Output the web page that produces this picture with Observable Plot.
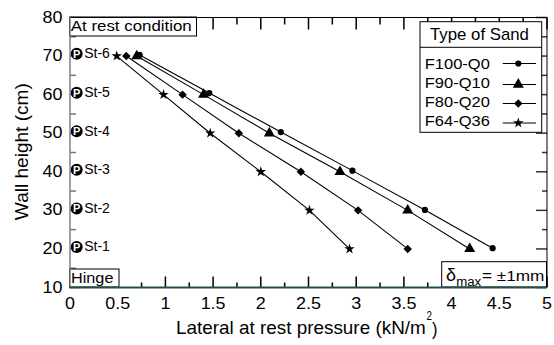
<!DOCTYPE html>
<html><head><meta charset="utf-8">
<script src="https://cdn.jsdelivr.net/npm/d3@7"></script>
<script src="https://cdn.jsdelivr.net/npm/@observablehq/plot@0.6"></script>
<style>
html,body{margin:0;padding:0;background:#fff;}
#chart svg{display:block;font-family:"Liberation Sans",Arial,sans-serif;}
</style></head><body><div id="chart"></div>
<script>
// ---- data ----
const heights = [70, 60, 50, 40, 30, 20];
const heightsF100 = [70.3, 60.4, 50.3, 40.3, 30.1, 20.2];
const seriesNames = ["F100-Q0", "F90-Q10", "F80-Q20", "F64-Q36"];
const pressureF100 = [0.73, 1.46, 2.21, 2.96, 3.72, 4.43];
const pressureF90 = [0.70, 1.40, 2.09, 2.83, 3.54, 4.19];
const pressureF80 = [0.59, 1.18, 1.77, 2.42, 3.02, 3.54];
const pressureF64 = [0.49, 0.98, 1.47, 2.00, 2.51, 2.93];
const sensorNames = ["St-1", "St-2", "St-3", "St-4", "St-5", "St-6"];
const sensorHeights = [20.5, 30.5, 40.5, 50.5, 60.5, 70.6];
const sensorPressure = 0.07;
const xTickValues = [0, 0.5, 1, 1.5, 2, 2.5, 3, 3.5, 4, 4.5, 5];
const xTickLabels = ["0", "0.5", "1", "1.5", "2", "2.5", "3", "3.5", "4", "4.5", "5"];
const xMinorTicks = [0.25, 0.75, 1.25, 1.75, 2.25, 2.75, 3.25, 3.75, 4.25, 4.75];
const yTickValues = [10, 20, 30, 40, 50, 60, 70, 80];
const yTickLabels = ["10", "20", "30", "40", "50", "60", "70", "80"];
const yMinorTicks = [15, 25, 35, 45, 55, 65, 75];
const titleText = "At rest condition";
const hingeText = "Hinge";
const legendTitle = "Type of Sand";
const xTitle = "Lateral at rest pressure (kN/m";
const yTitle = "Wall height (cm)";

// ---- table ----
const pressures = [pressureF100, pressureF90, pressureF80, pressureF64];
const rows = [];
seriesNames.forEach((s, k) => pressures[k].forEach((p, i) =>
  rows.push({series: s, pressure: p, height: k === 0 ? heightsF100[i] : heights[i]})));
const sensors = sensorNames.map((n, i) => ({name: n, pressure: sensorPressure, height: sensorHeights[i]}));

const symbols = ["circle", "triangle", "diamond2", "star"];
const radii = [3.1, 4.1, 3.8, 3.3];

const tickSym = (dx, dy) => ({draw(ctx) { ctx.moveTo(0, 0); ctx.lineTo(dx, dy); }});
const FONT = '"Liberation Sans", Arial, sans-serif';

const chart = Plot.plot({
  width: 554, height: 345,
  marginLeft: 69.5, marginRight: 7.5, marginTop: 17, marginBottom: 58,
  x: {domain: [0, 5]},
  y: {domain: [10, 80]},
  style: {fontFamily: FONT, fontSize: "16px", color: "black", background: "white", overflow: "visible"},
  marks: [
    // tick marks (inward)
    Plot.dot(xTickValues, {x: d => d, frameAnchor: "bottom", symbol: tickSym(0, -11), stroke: "black", fill: "none"}),
    Plot.dot(xMinorTicks, {x: d => d, frameAnchor: "bottom", symbol: tickSym(0, -5), stroke: "black", fill: "none"}),
    Plot.dot(xTickValues, {x: d => d, frameAnchor: "top", symbol: tickSym(0, 12), stroke: "black", fill: "none"}),
    Plot.dot(xMinorTicks, {x: d => d, frameAnchor: "top", symbol: tickSym(0, 7), stroke: "black", fill: "none"}),
    Plot.dot(yTickValues, {y: d => d, frameAnchor: "left", symbol: tickSym(11, 0), stroke: "#777", fill: "none"}),
    Plot.dot(yMinorTicks, {y: d => d, frameAnchor: "left", symbol: tickSym(6, 0), stroke: "#777", fill: "none"}),
    Plot.dot(yTickValues, {y: d => d, frameAnchor: "right", symbol: tickSym(-11, 0), stroke: "#333", fill: "none"}),
    Plot.dot(yMinorTicks, {y: d => d, frameAnchor: "right", symbol: tickSym(-5, 0), stroke: "#333", fill: "none"}),
    // axes labels
    Plot.axisX(xTickValues, {tickSize: 0, tickPadding: 10, label: null,
      tickFormat: d => xTickLabels[xTickValues.indexOf(d)], fontSize: 16}),
    Plot.axisY(yTickValues, {tickSize: 0, tickPadding: 7.5, label: null,
      tickFormat: d => yTickLabels[yTickValues.indexOf(d)], fontSize: 16}),
    // data
    Plot.line(rows, {x: "pressure", y: "height", z: "series", stroke: "black", strokeWidth: 1.1}),
    ...seriesNames.map((s, k) => Plot.dot(rows.filter(r => r.series === s),
      {x: "pressure", y: "height", symbol: symbols[k], r: radii[k], fill: "black", stroke: "none"})),
    // sensors
    Plot.dot(sensors, {x: "pressure", y: "height", r: 6, fill: "black"}),
    Plot.text(sensors, {x: "pressure", y: "height", text: () => "P", fill: "white", fontWeight: "bold", fontSize: 11, dy: 0.5}),
    Plot.text(sensors, {x: "pressure", y: "height", text: "name", textAnchor: "start", dx: 7.5, fontSize: 14, fill: "black"}),
    // frame
    Plot.ruleY([80], {stroke: "black", strokeWidth: 1}),
    Plot.ruleX([5], {stroke: "black", strokeWidth: 1}),
    Plot.ruleX([0], {stroke: "#808080", strokeWidth: 1.5}),
    Plot.ruleY([10], {stroke: "#23504b", strokeWidth: 2.2})
  ]
});

document.getElementById("chart").appendChild(chart);
const svg = d3.select(chart);
const xs = chart.scale("x"), ys = chart.scale("y");

// widen tick labels slightly (reference glyphs are horizontally stretched)
svg.selectAll('g[aria-label="x-axis tick label"] text, g[aria-label="y-axis tick label"] text').each(function() {
  const n = this.getComputedTextLength();
  this.setAttribute("textLength", n * 1.12);
  this.setAttribute("lengthAdjust", "spacingAndGlyphs");
});

function addText(parent, str, x, y, w, size, opts = {}) {
  const t = parent.append("text").attr("font-size", size).attr("fill", "black")
    .attr("font-family", FONT).attr("text-anchor", opts.anchor || "start").text(str);
  const n = t.node().getComputedTextLength();
  const s = w ? w / n : 1;
  t.attr("transform", `translate(${x},${y})${opts.rotate ? ` rotate(${opts.rotate})` : ""} scale(${s},1)`);
  return t;
}

// boxes: insert beneath frame rules
const firstRule = svg.select('g[aria-label="rule"]').node();
const boxes = d3.select(chart.insertBefore(document.createElementNS("http://www.w3.org/2000/svg", "g"), firstRule));

const x0 = xs.apply(0), x5 = xs.apply(5), yTop = ys.apply(80), yBot = ys.apply(10);

// At rest condition box
boxes.append("rect").attr("x", x0).attr("y", yTop).attr("width", 127).attr("height", 19)
  .attr("fill", "white").attr("stroke", "black");
addText(boxes, titleText, x0 + 1.3, yTop + 14, 121, 15);

// Hinge box
boxes.append("rect").attr("x", x0).attr("y", yBot - 18).attr("width", 49.5).attr("height", 18)
  .attr("fill", "white").attr("stroke", "black");
addText(boxes, hingeText, x0 + 1.5, yBot - 3.7, 42.5, 15);

// delta box
boxes.append("rect").attr("x", 441.7).attr("y", yBot - 25.3).attr("width", x5 - 441.7).attr("height", 25.3)
  .attr("fill", "white").attr("stroke", "black");
addText(boxes, "δ", 446, 280.7, 10, 19);
addText(boxes, "max", 456.2, 285.8, 25, 12);
addText(boxes, "= ±1mm", 482, 280.7, 62.5, 15.5);

// legend
const lg = boxes.append("g");
lg.append("rect").attr("x", 420).attr("y", 21.7).attr("width", 121.7).attr("height", 110.6)
  .attr("fill", "white").attr("stroke", "black");
lg.append("line").attr("x1", 420).attr("x2", 541.7).attr("y1", 47.3).attr("y2", 47.3).attr("stroke", "black");
addText(lg, legendTitle, 430, 40, 99, 16);
const rowBase = [69, 88, 107, 126];
const rowLine = [63.5, 84.5, 103.5, 123];
seriesNames.forEach((s, k) => {
  addText(lg, s, 424.8, rowBase[k], 65, 15);
  lg.append("line").attr("x1", 502.7).attr("x2", 536).attr("y1", rowLine[k]).attr("y2", rowLine[k]).attr("stroke", "black");
  const sym = {circle: d3.symbolCircle, triangle: d3.symbolTriangle, diamond2: d3.symbolDiamond2, star: d3.symbolStar}[symbols[k]];
  lg.append("path").attr("d", d3.symbol(sym, Math.PI * radii[k] * radii[k])())
    .attr("transform", `translate(518.3,${rowLine[k]})`).attr("fill", "black");
});

// axis titles
addText(svg, xTitle, 176, 333.5, 250, 18);
addText(svg, "2", 426.5, 320, 5.5, 12);
addText(svg, ")", 432, 334.5, 5.5, 19);
addText(svg, yTitle, 28, 151.7, 137, 17.5, {anchor: "middle", rotate: -90});
</script></body></html>
